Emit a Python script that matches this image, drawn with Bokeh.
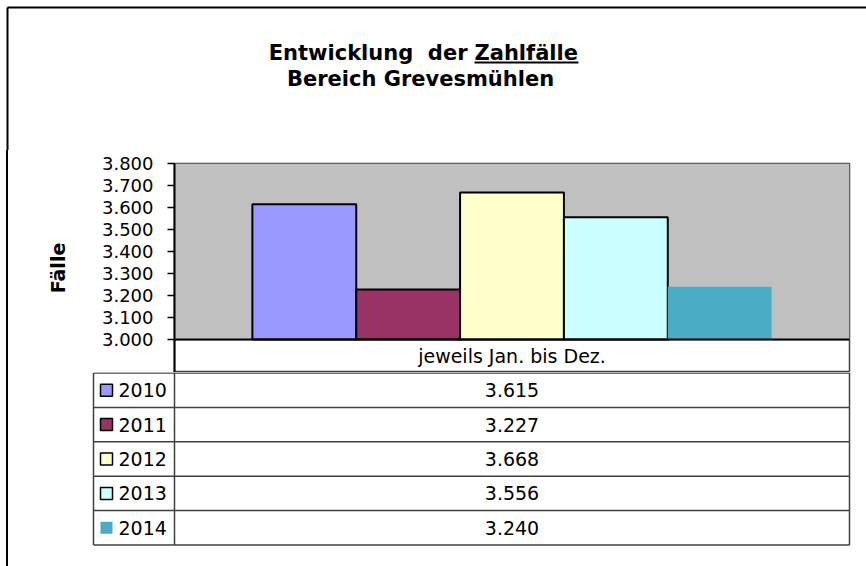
from bokeh.plotting import figure
from bokeh.models import (ColumnDataSource, Range1d, FactorRange, FixedTicker,
                          BoxAnnotation, Span, Spacer)
from bokeh.layouts import column, row
from bokeh.embed import file_html
from bokeh.resources import INLINE
from bokeh.core.properties import value

# ---------------- data ----------------
TITLE_1 = "Entwicklung\u00a0 der"
TITLE_2 = "Zahlfälle"
SUBTITLE = "Bereich Grevesmühlen"
Y_LABEL = "Fälle"
CATEGORY = "jeweils Jan. bis Dez."
YEARS = ["2010", "2011", "2012", "2013", "2014"]
VALUES = [3615, 3227, 3668, 3556, 3240]
COLORS = ["#9999FF", "#993366", "#FFFFCC", "#CCFFFF", "#4BACC6"]
OUTLINED = [True, True, True, True, False]
Y_TICKS = [3000, 3100, 3200, 3300, 3400, 3500, 3600, 3700, 3800]
Y_TICK_LABELS = ["3.000", "3.100", "3.200", "3.300", "3.400", "3.500", "3.600", "3.700", "3.800"]
Y_MIN, Y_MAX = 3000, 3800
Y_HEADER = 2850          # lower end of the table header row (in value units)

FONT = "DejaVu Sans"
LINE = "#404040"


def de_format(v):
    return f"{v:,}".replace(",", ".")


def no_align(p):
    try:
        p.frame_align = False
    except Exception:
        pass


# ---------------- title strip ----------------
pt = figure(width=866, height=150, x_range=Range1d(0, 866), y_range=Range1d(150, 0),
            x_axis_location=None, y_axis_location=None,
            output_backend="svg", toolbar_location=None,
            min_border_left=0, min_border_right=0, min_border_top=0, min_border_bottom=0)
no_align(pt)
pt.grid.visible = False
pt.outline_line_color = None
pt.background_fill_color = "white"
pt.border_fill_color = "white"
tkw = dict(text_font=value(FONT), text_font_style="bold", text_font_size="21px",
           text_color="black", text_baseline="alphabetic")
pt.text(x=[467], y=[52], text=[TITLE_1], text_align="right", **tkw)
pt.text(x=[474], y=[52], text=[TITLE_2], text_align="left", **tkw)
pt.text(x=[420], y=[78], text=[SUBTITLE], text_align="center", **tkw)
pt.segment(x0=[474], y0=[62], x1=[578], y1=[62], line_color="black", line_width=2)
# outer frame of the chart object (top and left edges)
pt.segment(x0=[7, 7], y0=[7, 7], x1=[866, 7], y1=[7, 150], line_color="black", line_width=2)

# ---------------- chart ----------------
pa = figure(width=858, height=222,
            x_range=FactorRange(*YEARS, range_padding=0.3),
            y_range=Range1d(Y_HEADER, Y_MAX),
            x_axis_location=None,
            output_backend="svg", toolbar_location=None,
            min_border_left=166, min_border_right=17,
            min_border_top=13, min_border_bottom=0)
no_align(pa)
pa.background_fill_color = "white"
pa.border_fill_color = "white"
pa.outline_line_color = LINE
pa.outline_line_width = 1.5
pa.xgrid.visible = False
pa.ygrid.grid_line_color = "#333333"
pa.ygrid.grid_line_width = 1.3
pa.ygrid.ticker = FixedTicker(ticks=Y_TICKS)

pa.add_layout(BoxAnnotation(bottom=Y_MIN, top=Y_MAX, fill_color="#C0C0C0",
                            fill_alpha=1, line_alpha=0, level="underlay"))

ya = pa.yaxis[0]
ya.ticker = FixedTicker(ticks=Y_TICKS)
ya.major_label_overrides = dict(zip(Y_TICKS, Y_TICK_LABELS))
ya.bounds = (Y_HEADER, Y_MAX)
ya.major_tick_out = 7
ya.major_tick_in = 0
ya.minor_tick_out = 0
ya.minor_tick_in = 0
ya.axis_line_color = "black"
ya.axis_line_width = 2
ya.major_tick_line_color = "black"
ya.major_tick_line_width = 1.5
ya.major_label_standoff = 14
ya.major_label_text_font = FONT
ya.major_label_text_font_size = "18px"
ya.major_label_text_color = "black"
ya.axis_label = Y_LABEL
ya.axis_label_text_font = FONT
ya.axis_label_text_font_style = "bold"
ya.axis_label_text_font_size = "19px"
ya.axis_label_text_color = "black"
ya.axis_label_standoff = 30

src = ColumnDataSource(dict(
    year=YEARS, value=VALUES, color=COLORS,
    lalpha=[1.0 if o else 0.0 for o in OUTLINED],
))
pa.vbar(x="year", top="value", bottom=Y_MIN, width=1.0, source=src,
        fill_color="color", line_color="black", line_width=2, line_alpha="lalpha")
pa.add_layout(Span(location=Y_MIN, dimension="width", line_color="black", line_width=2))

# header row of the data table (category name)
pa.text(x=[YEARS[len(YEARS) // 2]], y=[(Y_MIN + Y_HEADER) / 2], text=[CATEGORY],
        text_font=value(FONT), text_font_size="19px", text_color="black",
        text_align="center", text_baseline="middle")

# ---------------- data table ----------------
LEG_X = -81 / 675      # left edge of legend column (units of the data column width)
KEY_X = -68 / 675
TXT_X = -56 / 675
n = len(YEARS)

pb = figure(width=858, height=194,
            x_range=Range1d(-84 / 675, 1 + 3 / 675),
            y_range=Range1d(-0.5 / 34.4 + 175 / 34.4, -0.5 / 34.4),
            x_axis_location=None, y_axis_location=None,
            output_backend="svg", toolbar_location=None,
            min_border_left=82, min_border_right=14,
            min_border_top=0, min_border_bottom=19)
no_align(pb)
pb.grid.visible = False
pb.outline_line_color = None
pb.background_fill_color = "white"
pb.border_fill_color = "white"

x0s, x1s, y0s, y1s = [], [], [], []
for k in range(n + 1):
    x0s.append(LEG_X); x1s.append(1); y0s.append(k); y1s.append(k)
for xv in (LEG_X, 0, 1):
    x0s.append(xv); x1s.append(xv); y0s.append(0); y1s.append(n)
pb.segment(x0=x0s, y0=y0s, x1=x1s, y1=y1s, line_color=LINE, line_width=1.5)

tsrc = ColumnDataSource(dict(
    y=[i + 0.5 for i in range(n)], year=YEARS, val=[de_format(v) for v in VALUES],
    color=COLORS, lalpha=[1.0 if o else 0.0 for o in OUTLINED],
))
pb.text(x=TXT_X, y="y", text="year", source=tsrc, text_font=value(FONT), text_font_size="19px",
        text_align="left", text_baseline="middle", text_color="black")
pb.text(x=0.5, y="y", text="val", source=tsrc, text_font=value(FONT), text_font_size="19px",
        text_align="center", text_baseline="middle", text_color="black")
pb.scatter(x=KEY_X, y="y", source=tsrc, marker="square", size=12,
           fill_color="color", line_color="black", line_width=1.5, line_alpha="lalpha")

# left edge of the outer frame beside chart and table
gap = Spacer(width=6, height=416)
edge = Spacer(width=2, height=416, styles={"background-color": "black"})

layout = column(pt, row(gap, edge, column(pa, pb)))
open("out.html", "w").write(file_html(layout, INLINE))
